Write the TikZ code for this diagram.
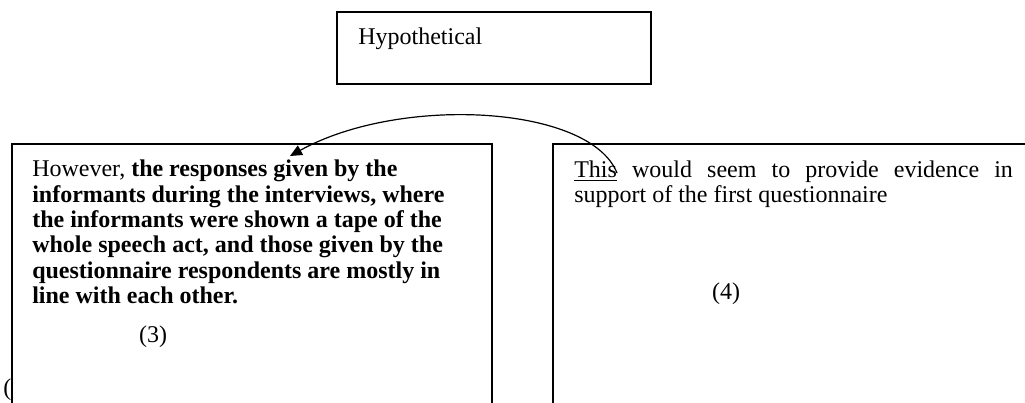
\documentclass[tikz,border=0pt]{standalone}
\usepackage{fontspec}
\setmainfont{Liberation Serif}
\usetikzlibrary{arrows.meta}
% underline with a heavier rule than \underline gives
\newcommand\thickul[1]{\setbox0\hbox{#1}\rlap{\rule[-3pt]{\wd0}{1.1pt}}\box0\relax}
\begin{document}
\begin{tikzpicture}[x=0.75pt,y=-0.75pt,
  frame/.style={draw=black,line width=1pt},
  body/.style={inner sep=0pt,font=\fontsize{18}{19}\selectfont,align=left,anchor=base west},
  link/.style={line width=0.9pt,-{Triangle[length=9pt,width=8pt]}}]
\clip (0,0) rectangle (1025,403);
\fill[white] (0,0) rectangle (1025,403);
% top box
\draw[frame] (337,12) rectangle (651,84);
\node[body] (hyp) at (358,45) {Hypothetical};
% two lower boxes, running past the lower edge
\draw[frame] (12,144) rectangle (492,430);
\draw[frame] (553,144) rectangle (1050,430);
% paragraph (3); the base anchor sits on its last line
\node[body] (p3) at (32,303.5) {However, \textbf{the responses given by the}\\
\textbf{informants during the interviews, where}\\
\textbf{the informants were shown a tape of the}\\
\textbf{whole speech act, and those given by the}\\
\textbf{questionnaire respondents are mostly in}\\
\textbf{line with each other.}};
\node[body,anchor=base] (n3) at (153,342) {(3)};
% paragraph (4)
\node[body] (p4a) at (574,177) {\makebox[329pt][s]{\thickul{This} would seem to provide evidence in}};
\node[body] (p4b) at (574,202.5) {support of the first questionnaire};
\node[body,anchor=base] (n4) at (726,299) {(4)};
\node[body] (paren) at (3,395) {(};
% curved link from "This" back to the left box
\coordinate (from) at (617,173);
\coordinate (to) at (290,156);
\draw[link] (from) .. controls (590,105) and (400,95) .. (to);
\end{tikzpicture}
\end{document}
